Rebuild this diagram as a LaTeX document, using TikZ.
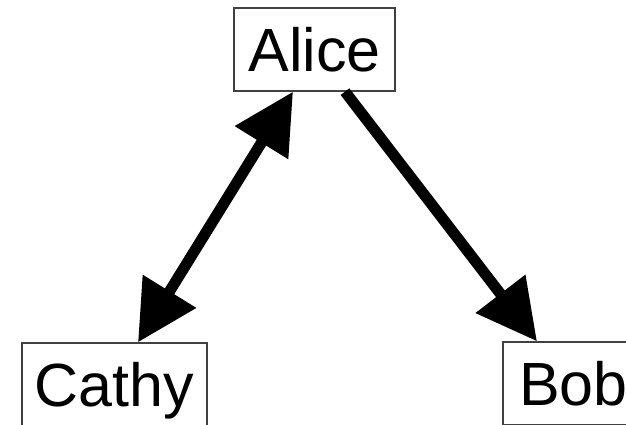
\documentclass[tikz,border=0pt]{standalone}
\usepackage{fontspec}
\setmainfont{Liberation Sans}
\usetikzlibrary{arrows.meta}
\begin{document}
\begin{tikzpicture}[x=1pt,y=-1pt,
  person/.style={draw=black!75, line width=1.3pt, rectangle, inner sep=0pt,
    minimum height=83pt, text height=44pt, text depth=0pt,
    font=\fontsize{61pt}{61pt}\selectfont},
  bigtip/.style={line width=11pt, draw=black,
    -{Triangle[length=60pt,width=60pt]}, shorten <=0pt},
  bitip/.style={line width=11pt, draw=black,
    {Triangle[length=60pt,width=60pt]}-{Triangle[length=60pt,width=60pt]}}]
\useasboundingbox (0,0) rectangle (626,424);
\clip (0,0) rectangle (626,424);
\fill[white] (0,0) rectangle (626,424);
\node[person, minimum width=161pt] (Alice) at (314.5,49.5) {Alice};
\node[person, minimum width=185pt] (Cathy) at (114.5,384.5) {Cathy};
\node[person, minimum width=141pt] (Bob) at (573.5,383.5) {Bob};
\draw[bitip] ([xshift=-21.5pt]Alice.south) -- ([xshift=23.5pt]Cathy.north);
\draw[bigtip] ([xshift=30.5pt]Alice.south) -- ([xshift=-36.5pt]Bob.north);
\end{tikzpicture}
\end{document}
